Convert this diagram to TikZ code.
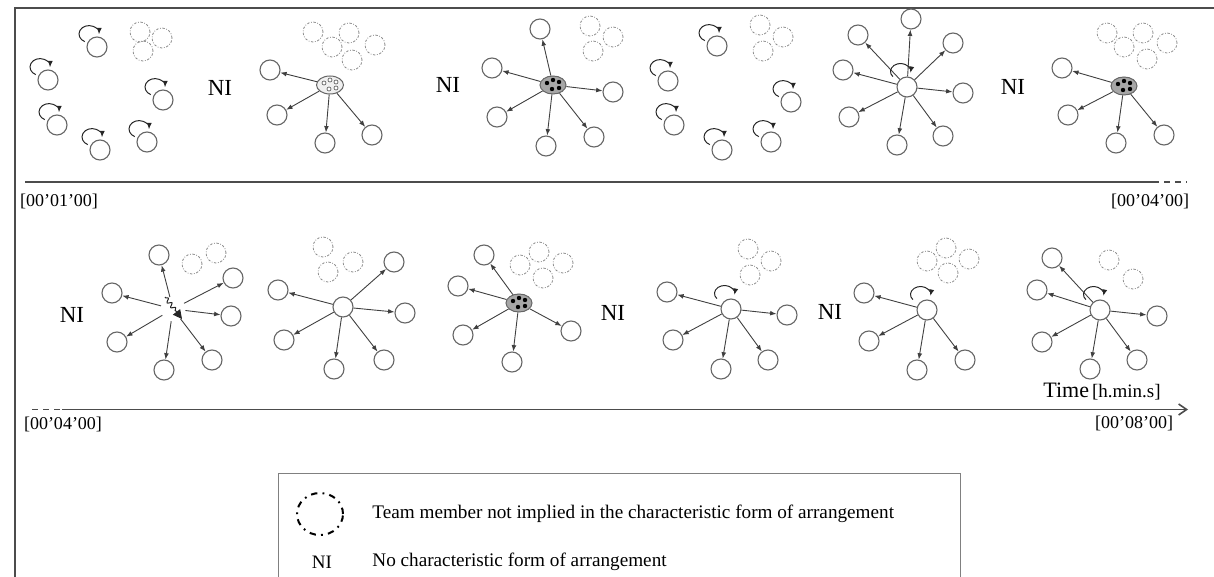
\documentclass[tikz,border=0pt]{standalone}
\usepackage{fontspec}
\setmainfont{Liberation Serif}
\usetikzlibrary{arrows.meta,shapes.geometric,decorations.pathmorphing}
\begin{document}
\begin{tikzpicture}[x=0.5pt,y=-0.5pt,
  mem/.style={circle,draw=black!60,line width=0.55pt,minimum size=10pt,inner sep=0pt},
  ctr/.style={mem,fill=white},
  ghost/.style={circle,draw=black!45,line width=0.4pt,dash pattern=on 1.2pt off 0.8pt on 0.4pt off 0.8pt,minimum size=10pt,inner sep=0pt},
  ovalw/.style={ellipse,draw=black!60,fill=black!6,line width=0.5pt,minimum width=13.5pt,minimum height=9pt,inner sep=0pt},
  ovalb/.style={ellipse,draw=black!60,fill=black!35,line width=0.5pt,minimum width=13pt,minimum height=9pt,inner sep=0pt},
  hub/.style={circle,minimum size=12pt,inner sep=0pt},
  arr/.style={draw=black!75,line width=0.45pt,-{Latex[length=3.2pt,width=2.4pt]}},
  loopa/.style={draw=black!85,line width=0.5pt,-{Latex[length=3.2pt,width=2.6pt]}},
  frame/.style={draw=black!70,line width=0.9pt},
  tline/.style={draw=black!70,line width=0.8pt},
  stamp/.style={font=\fontsize{9}{10}\selectfont,inner sep=0pt},
  nilab/.style={font=\fontsize{11.5}{12}\selectfont,inner sep=0pt},
  legtext/.style={font=\fontsize{9.6}{11}\selectfont,inner sep=0pt,anchor=west}
]
\useasboundingbox (0,0) rectangle (1214,577);
\newcommand\sloop[1]{\draw[loopa] ([shift={(-8,-13)}]#1.center) ++(245:5pt and 4.2pt) arc[start angle=245,end angle=-2,x radius=5pt,y radius=4.2pt];}
\newcommand\cloop[1]{\draw[loopa] ([shift={(-6.5,-15.5)}]#1.center) ++(220:5pt and 4pt) arc[start angle=220,end angle=-10,x radius=5pt,y radius=4pt];}
\newcommand\wdots[1]{\foreach \dx/\dy in {-6/-2,0/-5,6/-3,-1/4,6/3}{\draw[black!60,line width=0.35pt,fill=white] ([shift={(\dx,\dy)}]#1.center) circle[radius=2];}}
\newcommand\bdots[1]{\foreach \dx/\dy in {-6/-2,0/-5,6/-3,-1/4,6/3}{\fill[black] ([shift={(\dx,\dy)}]#1.center) circle[radius=2.2];}}

% frame
\coordinate (fa) at (15,577);
\coordinate (fb) at (15,8);
\coordinate (fc) at (1214,8);
\draw[frame] (fa) -- (fb) -- (fc);

% ---------- top row ----------
% panel 1
\foreach \n/\x/\y in {a/97/47,b/48/80,c/163/100,d/57/125,e/100/150,f/147/142}{\node[mem] (p1\n) at (\x,\y) {};}
\foreach \n in {a,b,c,d,e,f}{\sloop{p1\n}}
\foreach \n/\x/\y in {a/140/32,b/162/38,c/143/51}{\node[ghost] (g1\n) at (\x,\y) {};}
\node[nilab] (n1) at (220,88) {NI};

% panel 2
\node[ovalw] (o2) at (330,85) {};
\wdots{o2}
\foreach \n/\x/\y in {a/270/70,b/277/115,c/325/143,d/372/135}{\node[mem] (q2\n) at (\x,\y) {};\draw[arr] (o2) -- (q2\n);}
\foreach \n/\x/\y in {a/313/32,b/349/33,c/332/47,d/375/45,e/352/60}{\node[ghost] (g2\n) at (\x,\y) {};}
\node[nilab] (n2) at (448,85) {NI};

% panel 3
\node[ovalb] (o3) at (553,85) {};
\bdots{o3}
\foreach \n/\x/\y in {a/540/29,b/492/68,c/613/92,d/497/117,e/546/146,f/594/137}{\node[mem] (q3\n) at (\x,\y) {};\draw[arr] (o3) -- (q3\n);}
\foreach \n/\x/\y in {a/590/26,b/613/37,c/593/51}{\node[ghost] (g3\n) at (\x,\y) {};}

% panel 4
\foreach \n/\x/\y in {a/717/46,b/668/81,c/791/102,d/674/125,e/722/150,f/771/142}{\node[mem] (p4\n) at (\x,\y) {};}
\foreach \n in {a,b,c,d,e,f}{\sloop{p4\n}}
\foreach \n/\x/\y in {a/760/25,b/783/37,c/763/51}{\node[ghost] (g4\n) at (\x,\y) {};}

% panel 5
\node[ctr] (c5) at (907,87) {};
\foreach \n/\x/\y in {a/911/19,b/858/35,c/953/43,d/843/70,e/963/93,f/849/117,g/897/145,h/943/136}{\node[mem] (q5\n) at (\x,\y) {};\draw[arr] (c5) -- (q5\n);}
\cloop{c5}
\node[nilab] (n3) at (1013,87) {NI};

% panel 6
\node[ovalb] (o6) at (1124,86) {};
\bdots{o6}
\foreach \n/\x/\y in {a/1062/68,b/1068/115,c/1116/143,d/1164/135}{\node[mem] (q6\n) at (\x,\y) {};\draw[arr] (o6) -- (q6\n);}
\foreach \n/\x/\y in {a/1107/33,b/1143/33,c/1124/47,d/1167/43,e/1147/59}{\node[ghost] (g6\n) at (\x,\y) {};}

% timeline 1
\coordinate (l1a) at (25,182);
\coordinate (l1b) at (1153,182);
\coordinate (l1c) at (1187,182);
\draw[tline] (l1a) -- (l1b);
\draw[tline,dash pattern=on 3pt off 2.5pt] (l1b) -- (l1c);
\node[stamp] (t1) at (59,201) {[00’01’00]};
\node[stamp] (t2) at (1150,201) {[00’04’00]};

% ---------- bottom row ----------
\node[nilab] (n4) at (72,315) {NI};

% panel 7
\node[hub] (c7) at (173,309) {};
\coordinate (w1) at (165,297);
\coordinate (w2) at (182,319);
\draw[draw=black!85,line width=0.5pt,decorate,decoration={snake,amplitude=1pt,segment length=3pt,pre length=0.5pt,post length=4.5pt},-{Triangle[length=4.5pt,width=4.5pt]}] (w1) -- (w2);
\foreach \n/\x/\y in {a/159/255,b/112/293,c/233/278,d/231/316,e/117/342,f/164/370,g/212/360}{\node[mem] (q7\n) at (\x,\y) {};\draw[arr] (c7) -- (q7\n);}
\foreach \n/\x/\y in {a/192/264,b/216/253}{\node[ghost] (g7\n) at (\x,\y) {};}

% panel 8
\node[ctr] (c8) at (343,307) {};
\foreach \n/\x/\y in {a/394/262,b/278/290,c/405/313,d/284/340,e/334/369,f/384/360}{\node[mem] (q8\n) at (\x,\y) {};\draw[arr] (c8) -- (q8\n);}
\foreach \n/\x/\y in {a/323/247,b/353/262,c/328/272}{\node[ghost] (g8\n) at (\x,\y) {};}

% panel 9
\node[ovalb] (o9) at (519,303) {};
\bdots{o9}
\foreach \n/\x/\y in {a/484/255,b/458/286,c/463/335,d/512/362,e/571/331}{\node[mem] (q9\n) at (\x,\y) {};\draw[arr] (o9) -- (q9\n);}
\foreach \n/\x/\y in {a/539/252,b/520/265,c/563/263,d/543/278}{\node[ghost] (g9\n) at (\x,\y) {};}
\node[nilab] (n5) at (613,313) {NI};

% panel 10
\node[ctr] (c10) at (731,309) {};
\foreach \n/\x/\y in {a/667/292,b/787/315,c/673/340,d/721/369,e/768/360}{\node[mem] (q10\n) at (\x,\y) {};\draw[arr] (c10) -- (q10\n);}
\cloop{c10}
\foreach \n/\x/\y in {a/748/249,b/771/261,c/750/275}{\node[ghost] (g10\n) at (\x,\y) {};}
\node[nilab] (n6) at (830,312) {NI};

% panel 11
\node[ctr] (c11) at (927,310) {};
\foreach \n/\x/\y in {a/864/293,b/869/341,c/917/370,d/965/360}{\node[mem] (q11\n) at (\x,\y) {};\draw[arr] (c11) -- (q11\n);}
\cloop{c11}
\foreach \n/\x/\y in {a/946/248,b/927/261,c/969/259,d/948/273}{\node[ghost] (g11\n) at (\x,\y) {};}

% panel 12
\node[ctr] (c12) at (1100,310) {};
\foreach \n/\x/\y in {a/1052/258,b/1037/290,c/1157/316,d/1042/342,e/1090/369,f/1137/360}{\node[mem] (q12\n) at (\x,\y) {};\draw[arr] (c12) -- (q12\n);}
\cloop{c12}
\foreach \n/\x/\y in {a/1109/260,b/1133/279}{\node[ghost] (g12\n) at (\x,\y) {};}

% timeline 2
\coordinate (l2a) at (32,409.5);
\coordinate (l2b) at (62,409.5);
\coordinate (l2c) at (1188,409.5);
\draw[tline,dash pattern=on 3pt off 2.5pt] (l2a) -- (l2b);
\draw[tline,-{Straight Barb[length=4pt,width=5.5pt]}] (l2b) -- (l2c);
\node[stamp] (t3) at (63,424) {[00’04’00]};
\node[stamp] (t4) at (1134,423) {[00’08’00]};
\node[inner sep=0pt,anchor=base west] (tm) at (1043,397) {\fontsize{11}{12}\selectfont Time\hspace{1.5pt}\fontsize{9.5}{10}\selectfont[h.min.s]};

% ---------- legend ----------
\coordinate (ka) at (278,577);
\coordinate (kb) at (278,473);
\coordinate (kc) at (960,473);
\coordinate (kd) at (960,577);
\draw[draw=black!50,line width=0.5pt] (ka) -- (kb) -- (kc) -- (kd);
\node[ellipse,draw=black,line width=1pt,dash pattern=on 3.2pt off 2.6pt on 0.9pt off 2.6pt,minimum width=23pt,minimum height=21pt,inner sep=0pt] (key1) at (320,514) {};
\node[legtext] (key1t) at (372,514) {Team member not implied in the characteristic form of arrangement};
\node[font=\fontsize{9.5}{10}\selectfont,inner sep=0pt] (key2) at (322,562) {NI};
\node[legtext] (key2t) at (372,562) {No characteristic form of arrangement};
\end{tikzpicture}
\end{document}
